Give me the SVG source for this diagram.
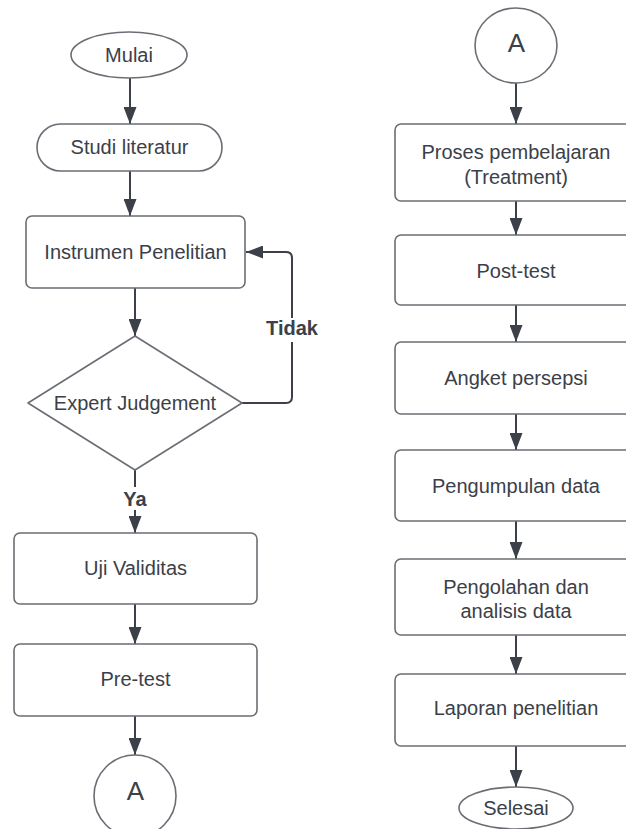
<svg xmlns="http://www.w3.org/2000/svg" width="626" height="829" viewBox="0 0 626 829">
<style>
.shape{fill:#ffffff;stroke:#6a6e74;stroke-width:1.6;stroke-linejoin:round}
.lbl{font-family:"Liberation Sans",Arial,sans-serif;font-size:20px;fill:#3b4049;text-anchor:middle}
.b{font-weight:bold}
.big{font-size:26px}
.conn{fill:none;stroke:#3b4049;stroke-width:2}
</style>
<defs>
<marker id="ah" markerUnits="userSpaceOnUse" markerWidth="18" markerHeight="13" refX="17" refY="6.5" orient="auto">
<path d="M0,0 L17,6.5 L0,13 z" fill="#3b4049"/>
</marker>
</defs>
<rect width="626" height="829" fill="#ffffff"/>

<g id="connectors">
<path class="conn" d="M130,78 V124" marker-end="url(#ah)"/>
<path class="conn" d="M130,171 V216" marker-end="url(#ah)"/>
<path class="conn" d="M135,288 V336" marker-end="url(#ah)"/>
<path class="conn" d="M242,403 H286 Q292,403 292,397 V258 Q292,252 286,252 H246" marker-end="url(#ah)"/>
<path class="conn" d="M135,470 V533" marker-end="url(#ah)"/>
<path class="conn" d="M135,604 V644" marker-end="url(#ah)"/>
<path class="conn" d="M135,716 V755" marker-end="url(#ah)"/>
<path class="conn" d="M516,83 V124" marker-end="url(#ah)"/>
<path class="conn" d="M516,201 V235" marker-end="url(#ah)"/>
<path class="conn" d="M516,305 V342" marker-end="url(#ah)"/>
<path class="conn" d="M516,414 V450" marker-end="url(#ah)"/>
<path class="conn" d="M516,521 V559" marker-end="url(#ah)"/>
<path class="conn" d="M516,635 V674" marker-end="url(#ah)"/>
<path class="conn" d="M516,746 V787" marker-end="url(#ah)"/>
<rect x="264" y="318" width="56" height="24" fill="#ffffff"/>
<text class="lbl b" x="292" y="335">Tidak</text>
<rect x="120" y="487" width="30" height="23" fill="#ffffff"/>
<text class="lbl b" x="135" y="506">Ya</text>
</g>

<g id="mulai">
<ellipse class="shape" cx="129" cy="55" rx="58" ry="23"/>
<text class="lbl" x="129" y="62">Mulai</text>
</g>
<g id="studi">
<rect class="shape" x="37" y="124" width="185" height="47" rx="23.5"/>
<text class="lbl" x="129.5" y="154">Studi literatur</text>
</g>
<g id="instrumen">
<rect class="shape" x="26" y="216" width="219" height="72" rx="6"/>
<text class="lbl" x="135.5" y="259">Instrumen Penelitian</text>
</g>
<g id="expert">
<polygon class="shape" points="135,336 242,403 135,470 28,403"/>
<text class="lbl" x="135" y="410">Expert Judgement</text>
</g>
<g id="uji">
<rect class="shape" x="14" y="533" width="243" height="71" rx="6"/>
<text class="lbl" x="135.5" y="575">Uji Validitas</text>
</g>
<g id="pretest">
<rect class="shape" x="14" y="644" width="243" height="72" rx="6"/>
<text class="lbl" x="135.5" y="686">Pre-test</text>
</g>
<g id="connA1">
<circle class="shape" cx="135" cy="796" r="41"/>
<text class="lbl big" x="135.5" y="800">A</text>
</g>

<g id="connA2">
<ellipse class="shape" cx="516" cy="45.5" rx="41" ry="37.5"/>
<text class="lbl big" x="516.5" y="52">A</text>
</g>
<g id="proses">
<rect class="shape" x="395" y="124" width="242" height="77" rx="6"/>
<text class="lbl" x="516" y="159">Proses pembelajaran</text>
<text class="lbl" x="516" y="184">(Treatment)</text>
</g>
<g id="posttest">
<rect class="shape" x="395" y="235" width="242" height="70" rx="6"/>
<text class="lbl" x="516" y="278">Post-test</text>
</g>
<g id="angket">
<rect class="shape" x="395" y="342" width="242" height="72" rx="6"/>
<text class="lbl" x="516" y="385">Angket persepsi</text>
</g>
<g id="pengumpulan">
<rect class="shape" x="395" y="450" width="242" height="71" rx="6"/>
<text class="lbl" x="516" y="493">Pengumpulan data</text>
</g>
<g id="pengolahan">
<rect class="shape" x="395" y="559" width="242" height="76" rx="6"/>
<text class="lbl" x="516" y="594">Pengolahan dan</text>
<text class="lbl" x="516" y="618">analisis data</text>
</g>
<g id="laporan">
<rect class="shape" x="395" y="674" width="242" height="72" rx="6"/>
<text class="lbl" x="516" y="715">Laporan penelitian</text>
</g>
<g id="selesai">
<ellipse class="shape" cx="516" cy="808" rx="57" ry="21"/>
<text class="lbl" x="516" y="815">Selesai</text>
</g>
</svg>
